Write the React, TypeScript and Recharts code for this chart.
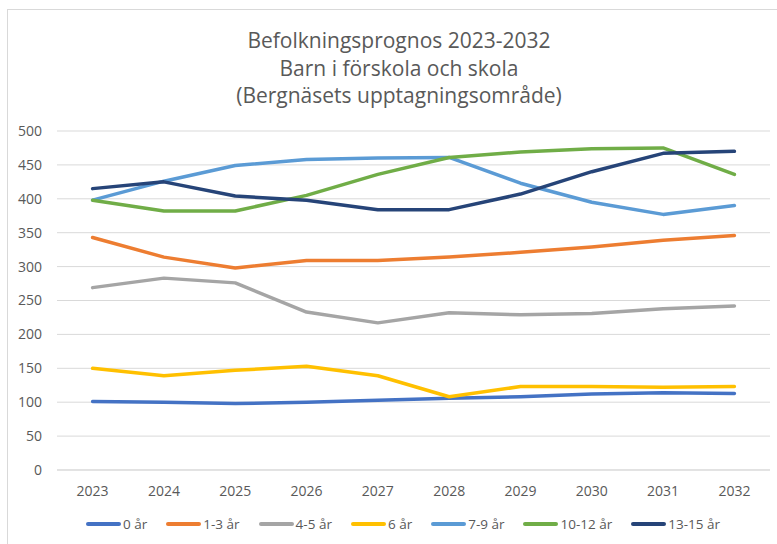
import React from "react";
import { LineChart, Line, XAxis, YAxis, CartesianGrid } from "recharts";

const years = ["2023", "2024", "2025", "2026", "2027", "2028", "2029", "2030", "2031", "2032"];
const yTicks = [0, 50, 100, 150, 200, 250, 300, 350, 400, 450, 500];

const s0 = [101, 100, 98, 100, 103, 106, 108, 112, 114, 113];
const s13 = [343, 314, 298, 309, 309, 314, 321, 329, 339, 346];
const s45 = [269, 283, 276, 233, 217, 232, 229, 231, 238, 242];
const s6 = [150, 139, 147, 153, 139, 108, 123, 123, 122, 123];
const s79 = [398, 426, 449, 458, 460, 461, 423, 395, 377, 390];
const s1012 = [398, 382, 382, 405, 436, 461, 469, 474, 475, 436];
const s1315 = [415, 425, 404, 398, 384, 384, 407, 440, 467, 470];

const seriesNames = ["0 år", "1-3 år", "4-5 år", "6 år", "7-9 år", "10-12 år", "13-15 år"];
const seriesColors = ["#4472C4", "#ED7D31", "#A5A5A5", "#FFC000", "#5B9BD5", "#70AD47", "#264478"];
const seriesValues = [s0, s13, s45, s6, s79, s1012, s1315];

const titleLines = ["Befolkningsprognos 2023-2032", "Barn i förskola och skola", "(Bergnäsets upptagningsområde)"];

const data = years.map((y, i) => {
  const row: any = { year: y };
  seriesNames.forEach((n, k) => {
    row[n] = seriesValues[k][i];
  });
  return row;
});

const FONT = "'Open Sans', sans-serif";

export default function App() {
  return (
    <div style={{ position: "absolute", left: 0, top: 0, width: 777, height: 544, overflow: "hidden", background: "#fff" }}>
      <div style={{ position: "absolute", left: 8, top: -21, fontFamily: "'Liberation Serif', serif", fontWeight: "bold", fontSize: 22, color: "#000", whiteSpace: "nowrap" }}>
        2022 – 2031.
      </div>
      <div style={{ position: "absolute", left: 7, top: 9, width: 820, height: 600, border: "1px solid #D9D9D9", boxSizing: "border-box" }} />
      <div style={{ position: "absolute", left: 0, top: 0 }}>
        <LineChart width={777} height={544} data={data} margin={{ top: 131, right: 7, bottom: 54, left: 7 }}>
          <CartesianGrid horizontal vertical={false} stroke="#D9D9D9" strokeWidth={1} />
          <XAxis
            dataKey="year"
            axisLine={{ stroke: "#D9D9D9" }}
            tickLine={false}
            tickMargin={10}
            height={20}
            padding={{ left: 35.6, right: 35.6 }}
            tick={{ fill: "#595959", fontSize: 14, fontFamily: FONT }}
          />
          <YAxis
            domain={[0, 500]}
            ticks={yTicks}
            axisLine={false}
            tickLine={false}
            tickMargin={9}
            width={50}
            tick={{ fill: "#595959", fontSize: 14, fontFamily: FONT }}
          />
          {seriesNames.map((n, k) => (
            <Line
              key={n}
              dataKey={n}
              stroke={seriesColors[k]}
              strokeWidth={3.5}
              dot={false}
              isAnimationActive={false}
              strokeLinecap="round"
              strokeLinejoin="round"
            />
          ))}
        </LineChart>
      </div>
      <div style={{ position: "absolute", left: 0, width: 798, top: 27, textAlign: "center", fontFamily: FONT, fontSize: 21, lineHeight: "27.5px", color: "#595959" }}>
        {titleLines.map((t) => (
          <div key={t}>{t}</div>
        ))}
      </div>
      <div style={{ position: "absolute", left: 0, width: 806, top: 515, display: "flex", justifyContent: "center", gap: 19, fontFamily: FONT, fontSize: 13.5, color: "#595959" }}>
        {seriesNames.map((n, k) => (
          <div key={n} style={{ display: "flex", alignItems: "center", gap: 2 }}>
            <div style={{ width: 35, height: 3.5, background: seriesColors[k], borderRadius: 2 }} />
            <span>{n}</span>
          </div>
        ))}
      </div>
    </div>
  );
}
